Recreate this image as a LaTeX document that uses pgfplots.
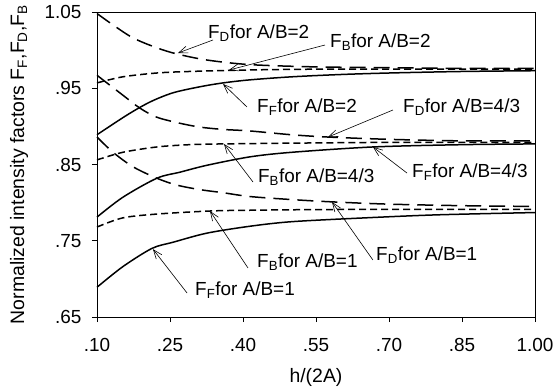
\documentclass[border=0pt]{standalone}
\usepackage{fontspec}
\setmainfont{Liberation Sans}
\usepackage{pgfplots}
\pgfplotsset{compat=1.18}
\usetikzlibrary{arrows.meta}
\newcommand{\lab}[2]{F\textsubscript{#1}for A/B=#2}
\begin{document}
\begin{tikzpicture}[
  ldash/.style={black, line width=1.5bp, dash pattern=on 16bp off 8bp, smooth},
  sdash/.style={black, line width=1.5bp, dash pattern=on 7bp off 4bp, smooth},
  solidl/.style={black, line width=1.5bp, smooth},
  ann/.style={black, line width=0.6bp, -{Straight Barb[length=9bp,width=7bp,line width=0.6bp]}},
  tl/.style={anchor=west, inner sep=0pt, font=\fontsize{19}{21}\selectfont},
]
\begin{axis}[
  at={(0,0)}, anchor=south west,
  scale only axis, width=438bp, height=305bp,
  xmin=0.1, xmax=1.0, ymin=0.65, ymax=1.05,
  xtick={0.1,0.25,0.4,0.55,0.7,0.85,1.0},
  xticklabels={.10,.25,.40,.55,.70,.85,1.00},
  ytick={0.65,0.75,0.85,0.95,1.05},
  yticklabels={.65,.75,.85,.95,1.05},
  tick align=outside, tick pos=left,
  major tick length=5bp,
  tick style={black, line width=0.8bp},
  axis line style={line width=0.8bp},
  ticklabel style={font=\fontsize{19}{21}\selectfont},
  xticklabel style={yshift=-13bp},
  yticklabel style={xshift=-7bp},
  label style={font=\fontsize{19.5}{21}\selectfont},
  xlabel={h/(2A)},
  xlabel style={at={([yshift=-60bp]axis description cs:0.5,0)}, anchor=center},
  ylabel={Normalized intensity factors F\textsubscript{F},F\textsubscript{D},F\textsubscript{B}},
  ylabel style={at={([xshift=-78bp]axis description cs:0,0.5)}, anchor=center, rotate=0},
  clip=false,
]
% A/B = 2
\addplot[ldash] coordinates {(0.1,1.048)(0.133,1.033)(0.174,1.016)(0.223,1.003)(0.264,0.995)(0.326,0.987)(0.414,0.981)(0.55,0.978)(0.7,0.977)(0.85,0.976)(1.0,0.976)};
\addplot[sdash] coordinates {(0.1,0.957)(0.153,0.965)(0.223,0.970)(0.29,0.972)(0.414,0.974)(0.55,0.975)(0.7,0.975)(1.0,0.975)};
\addplot[solidl] coordinates {(0.1,0.889)(0.162,0.915)(0.209,0.932)(0.256,0.944)(0.312,0.952)(0.359,0.957)(0.414,0.961)(0.5,0.965)(0.6,0.968)(0.7,0.970)(0.85,0.972)(1.0,0.973)};
% A/B = 4/3
\addplot[ldash] coordinates {(0.1,0.967)(0.153,0.941)(0.188,0.924)(0.223,0.912)(0.271,0.904)(0.312,0.899)(0.359,0.896)(0.414,0.894)(0.5,0.889)(0.575,0.886)(0.7,0.883)(0.85,0.881)(1.0,0.881)};
\addplot[sdash] coordinates {(0.1,0.856)(0.153,0.866)(0.223,0.873)(0.29,0.876)(0.36,0.877)(0.5,0.878)(0.7,0.879)(1.0,0.879)};
\addplot[solidl] coordinates {(0.1,0.781)(0.153,0.807)(0.223,0.832)(0.271,0.840)(0.326,0.849)(0.414,0.860)(0.5,0.866)(0.667,0.873)(0.85,0.876)(1.0,0.877)};
% A/B = 1
\addplot[ldash] coordinates {(0.1,0.886)(0.133,0.866)(0.174,0.847)(0.223,0.832)(0.264,0.823)(0.312,0.817)(0.359,0.813)(0.414,0.808)(0.5,0.804)(0.583,0.801)(0.7,0.798)(0.85,0.796)(1.0,0.795)};
\addplot[sdash] coordinates {(0.1,0.768)(0.153,0.780)(0.223,0.785)(0.332,0.789)(0.414,0.790)(0.6,0.791)(1.0,0.791)};
\addplot[solidl] coordinates {(0.1,0.689)(0.153,0.716)(0.213,0.740)(0.256,0.748)(0.326,0.760)(0.414,0.769)(0.5,0.775)(0.65,0.780)(0.8,0.784)(1.0,0.787)};
% annotations
\draw[ann] (axis cs:0.3384,1.0133) -- (axis cs:0.2664,0.9962);
\node[tl] at (axis cs:0.328,1.0225) {\lab{D}{2}};
\draw[ann] (axis cs:0.5685,1.0067) -- (axis cs:0.3712,0.9739);
\node[tl] at (axis cs:0.5788,1.0107) {\lab{B}{2}};
\draw[ann] (axis cs:0.4082,0.9254) -- (axis cs:0.359,0.9556);
\node[tl] at (axis cs:0.4288,0.9254) {\lab{F}{2}};
\draw[ann] (axis cs:0.7082,0.9215) -- (axis cs:0.5747,0.886);
\node[tl] at (axis cs:0.7288,0.9254) {\lab{D}{4/3}};
\draw[ann] (axis cs:0.737,0.8388) -- (axis cs:0.6671,0.873);
\node[tl] at (axis cs:0.7473,0.8402) {\lab{F}{4/3}};
\draw[ann] (axis cs:0.4206,0.827) -- (axis cs:0.361,0.8769);
\node[tl] at (axis cs:0.4308,0.8336) {\lab{B}{4/3}};
\draw[ann] (axis cs:0.4103,0.7143) -- (axis cs:0.3322,0.789);
\node[tl] at (axis cs:0.4288,0.7221) {\lab{B}{1}};
\draw[ann] (axis cs:0.667,0.7247) -- (axis cs:0.583,0.8008);
\node[tl] at (axis cs:0.6733,0.7313) {\lab{D}{1}};
\draw[ann] (axis cs:0.285,0.6815) -- (axis cs:0.215,0.739);
\node[tl] at (axis cs:0.3014,0.6854) {\lab{F}{1}};
\end{axis}
\pgfresetboundingbox
\path[use as bounding box] (-97bp,-73bp) rectangle (457bp,317bp);
\end{tikzpicture}
\end{document}
